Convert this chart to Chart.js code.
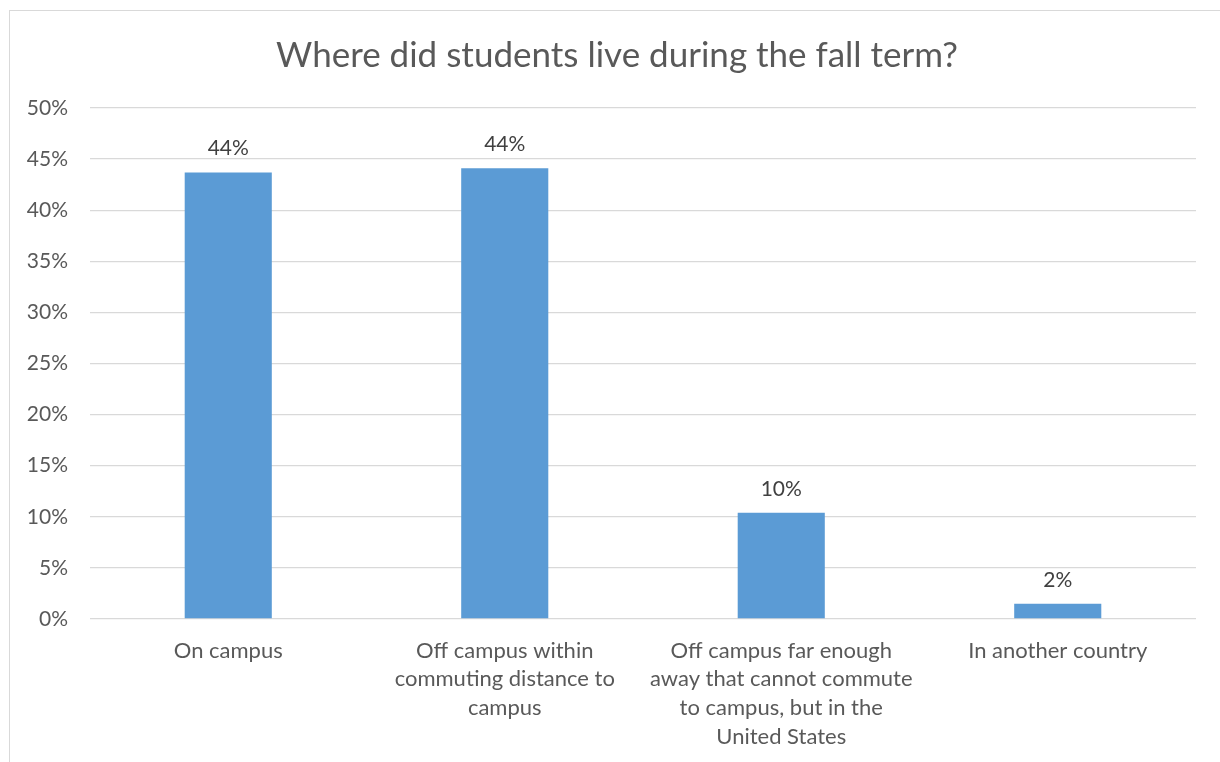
<!DOCTYPE html>
<html>
<head>
<meta charset="utf-8">
<script src="https://cdn.jsdelivr.net/npm/chart.js@4.4.1/dist/chart.umd.min.js"></script>
<style>
  html, body { margin: 0; padding: 0; background: #ffffff; }
  #wrap { width: 1220px; height: 762px; position: relative; }
</style>
</head>
<body>
<div id="wrap"><canvas id="chart" width="1220" height="762"></canvas></div>
<script>
// Survey answers: where students lived during the fall term
const categories = [
  ["On campus"],
  ["Off campus within", "commuting distance to", "campus"],
  ["Off campus far enough", "away that cannot commute", "to campus, but in the", "United States"],
  ["In another country"]
];
const shares = [43.7, 44.1, 10.4, 1.5];   // percent of respondents
const yTicks = [0, 5, 10, 15, 20, 25, 30, 35, 40, 45, 50];
const chartTitle = "Where did students live during the fall term?";

const FONT = "Lato, 'Open Sans', sans-serif";
const TEXT = "#595959";

// white page with the thin light frame around the chart
const framePlugin = {
  id: 'frame',
  beforeDraw(chart) {
    const ctx = chart.ctx;
    ctx.save();
    ctx.fillStyle = '#ffffff';
    ctx.fillRect(0, 0, chart.width, chart.height);
    ctx.strokeStyle = '#d9d9d9';
    ctx.lineWidth = 1;
    ctx.strokeRect(9.5, 10.5, chart.width + 10, chart.height + 10);
    ctx.restore();
  }
};

// centred title above the plot
const titlePlugin = {
  id: 'titleText',
  afterDraw(chart) {
    const ctx = chart.ctx;
    ctx.save();
    ctx.font = "35px " + FONT;
    ctx.fillStyle = TEXT;
    ctx.textAlign = 'center';
    ctx.textBaseline = 'alphabetic';
    ctx.fillText(chartTitle, 617, 67);
    ctx.restore();
  }
};

// percentage label above each bar
const valueLabels = {
  id: 'valueLabels',
  afterDatasetsDraw(chart) {
    const ctx = chart.ctx;
    const meta = chart.getDatasetMeta(0);
    const data = chart.data.datasets[0].data;
    ctx.save();
    ctx.font = "21px " + FONT;
    ctx.fillStyle = "#404040";
    ctx.textAlign = 'center';
    ctx.textBaseline = 'alphabetic';
    meta.data.forEach((bar, i) => {
      ctx.fillText(Math.round(data[i]) + '%', bar.x, bar.y - 17);
    });
    ctx.restore();
  }
};

new Chart(document.getElementById('chart'), {
  type: 'bar',
  data: {
    labels: categories,
    datasets: [{
      data: shares,
      backgroundColor: '#5b9bd5',
      borderWidth: 0,
      barPercentage: 0.315,
      categoryPercentage: 1.0
    }]
  },
  options: {
    responsive: false,
    animation: false,
    devicePixelRatio: 1,
    layout: { padding: { top: 108, right: 24, bottom: 0, left: 0 } },
    plugins: {
      legend: { display: false },
      title: { display: false },
      tooltip: { enabled: false }
    },
    scales: {
      y: {
        min: 0,
        max: 50,
        afterBuildTicks(scale) { scale.ticks = yTicks.map(v => ({ value: v })); },
        afterFit(scale) { scale.width = 90; },
        border: { display: false },
        grid: { color: '#d9d9d9', lineWidth: 1.3, drawTicks: false },
        ticks: {
          padding: 22,
          color: TEXT,
          font: { family: FONT, size: 21 },
          callback: v => v + '%'
        }
      },
      x: {
        afterFit(scale) { scale.height = 143; },
        border: { display: false },
        grid: { display: false, drawTicks: false },
        ticks: {
          padding: 17,
          color: TEXT,
          maxRotation: 0,
          autoSkip: false,
          font: { family: FONT, size: 22, lineHeight: 1.31 }
        }
      }
    }
  },
  plugins: [framePlugin, valueLabels, titlePlugin]
});
</script>
</body>
</html>
